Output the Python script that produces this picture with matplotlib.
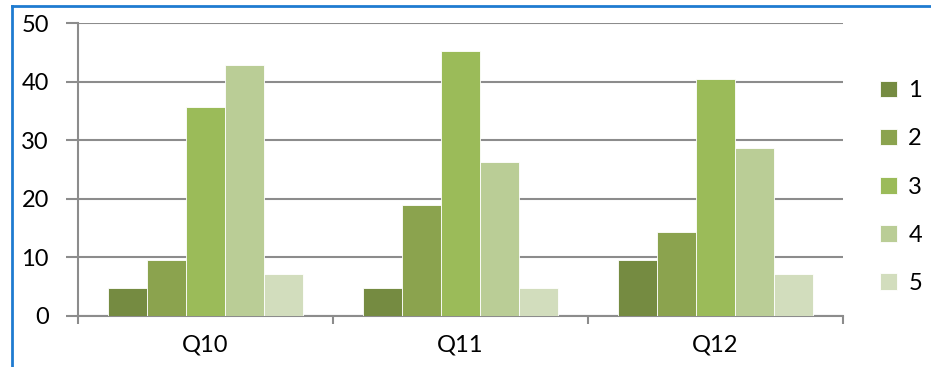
import numpy as np
import matplotlib.pyplot as plt
from matplotlib.lines import Line2D

plt.rcParams['font.family'] = ['Lato', 'DejaVu Sans']

questions = ['Q10', 'Q11', 'Q12']
series_names = ['1', '2', '3', '4', '5']
# percent of answers for each rating, per question
values = {
    '1': [4.8, 4.8, 9.5],
    '2': [9.5, 19.0, 14.3],
    '3': [35.7, 45.2, 40.5],
    '4': [42.9, 26.2, 28.6],
    '5': [7.1, 4.8, 7.1],
}
colors = ['#758B41', '#8BA34E', '#9BBB59', '#BACD96', '#D2DDBD']

W, H = 931, 367
fig = plt.figure(figsize=(W / 100, H / 100), dpi=100)
ax = fig.add_axes([78 / W, 1 - 316 / H, (843 - 78) / W, (316 - 23) / H])

x = np.arange(len(questions))
bw = 39 / 255
for i, name in enumerate(series_names):
    ax.bar(x + (i - 2) * bw, values[name], width=bw, color=colors[i],
           label=name, zorder=3, linewidth=0.6, edgecolor='white')

grid_c = '#8C8C8C'
ax.set_xlim(-0.5, 2.5)
ax.set_ylim(0, 50)
ax.set_yticks(range(0, 51, 10))
ax.yaxis.grid(True, color=grid_c, linewidth=1.5, zorder=0)
ax.set_xticks([-0.5, 0.5, 1.5, 2.5])
ax.set_xticklabels([])
ax.set_xticks(x, minor=True)
ax.set_xticklabels(questions, minor=True, fontsize=17)
ax.tick_params(axis='x', which='minor', length=0, pad=13)
ax.tick_params(axis='x', which='major', length=6, width=1.5, color=grid_c)
ax.tick_params(axis='y', length=9, width=1.5, color=grid_c, labelsize=17, pad=12)
for s in ['top', 'right']:
    ax.spines[s].set_visible(False)
for s in ['left', 'bottom']:
    ax.spines[s].set_color(grid_c)
    ax.spines[s].set_linewidth(1.5)

ax.legend(loc='center left', bbox_to_anchor=(1.036, 0.44), frameon=False,
          fontsize=17, handlelength=0.7, handleheight=0.7,
          labelspacing=1.15, handletextpad=0.5, borderaxespad=0)

# blue frame around the chart area
blue = '#1F7BD0'
fig.add_artist(Line2D([11.5 / W, 11.5 / W], [0, 1 - 6 / H], color=blue, lw=2))
fig.add_artist(Line2D([11.5 / W, 1], [1 - 6 / H, 1 - 6 / H], color=blue, lw=2))

fig.savefig('out.png', dpi=100)
